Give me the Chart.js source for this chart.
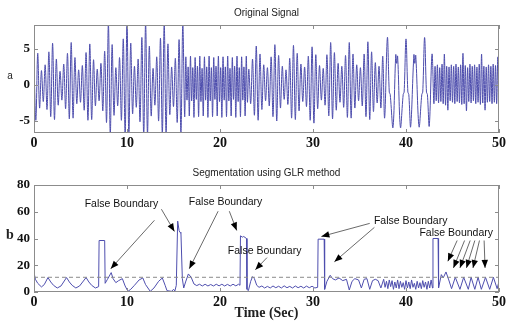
<!DOCTYPE html>
<html>
<head>
<meta charset="utf-8">
<script src="https://cdn.jsdelivr.net/npm/chart.js@4.4.7/dist/chart.umd.min.js"></script>
<style>
  html, body { margin: 0; padding: 0; background: #fff; }
  #wrap { position: relative; width: 508px; height: 322px; }
  canvas { position: absolute; left: 0; }
  #top { top: 0; }
  #bottom { top: 160px; }
</style>
</head>
<body>
<div id="wrap">
  <canvas id="top" width="508" height="160"></canvas>
  <canvas id="bottom" width="508" height="162"></canvas>
</div>
<script>
// ---- data ----
const xTicks = [0, 10, 20, 30, 40, 50];
const aTicks = [-5, 0, 5];
const bTicks = [0, 20, 40, 60, 80];

// original signal, peaks and troughs
// 0-16 s, one extreme every 0.2 s
const sigA = [
  2.5, -4.9, 4.4, -3.2, 2.0, -2.3, 2.8, -3.4, 4.6, -4.4,
  5.8, -4.8, 3.6, -2.8, 1.9, -2.1, 2.9, -3.3, 4.4, -4.7,
  5.9, -4.6, 3.8, -2.6, 2.1, -2.4, 2.7, -3.5, 4.5, -4.9,
  5.7, -4.8, 3.5, -2.9, 2.2, -2.2, 3.0, -3.6, 4.7, -5.2,
  8.6, -6.9, 5.6, -4.2, 2.4, -2.9, 3.8, -4.9, 6.4, -6.9,
  8.8, -7.0, 5.8, -4.0, 2.6, -3.1, 3.6, -5.1, 6.6, -7.0,
  8.7, -6.9, 5.4, -4.3, 2.3, -2.8, 3.9, -5.0, 6.5, -6.9,
  8.6, -6.8, 5.7, -4.1, 2.5, -3.0, 3.7, -5.2, 6.3, -6.8,
  8.6
];
// 16.2-23 s, one extreme every 0.125 s
const sigB = [
  -4.4, 3.9, -2.1, 2.5, -4.3, 4.0, -2.2, 2.4, -4.5, 3.8, -2.0, 2.6,
  -4.4, 4.0, -2.3, 2.3, -4.3, 3.9, -2.1, 2.5, -4.5, 4.0, -2.2, 2.4,
  -4.4, 3.8, -2.0, 2.6, -4.3, 4.0, -2.3, 2.4, -4.5, 3.9, -2.1, 2.5,
  -4.4, 4.0, -2.2, 2.3, -4.3, 3.8, -2.0, 2.6, -4.5, 4.0, -2.3, 2.4,
  -4.4, 3.9, -2.1, 2.5, -4.3, 4.0, -2.4
];
// 23.1-37.7 s, one extreme every 0.2 s
const sigC = [
  2.2, -2.6, 3.6, -4.2, 5.4, -4.9, 4.3, -3.4, 2.8, -2.2,
  2.4, -2.9, 3.9, -4.4, 5.6, -5.0, 4.1, -3.2, 2.6, -2.0,
  2.1, -2.7, 3.7, -4.6, 5.5, -4.8, 4.4, -3.6, 2.9, -2.3,
  2.5, -3.0, 4.0, -4.9, 5.3, -5.3, 4.2, -3.3, 2.7, -2.1,
  2.3, -2.8, 4.2, -4.3, 5.9, -4.7, 4.5, -3.5, 3.0, -2.4,
  2.6, -3.1, 4.1, -4.5, 5.9, -4.6, 4.3, -3.2, 2.8, -2.2,
  2.4, -2.9, 4.3, -4.4, 6.0, -4.8, 4.6, -3.7, 3.1, -2.5,
  2.6, -3.2, 4.0, -4.6
];
// 38-42.8 s, slow part
const sigDTime = [38.0, 38.2, 38.3, 38.6, 38.9, 39.0, 39.1, 39.4, 39.7, 39.8, 40.0, 40.2, 40.3,
  40.5, 40.85, 40.95, 41.05, 41.4, 41.7, 41.8, 42.0, 42.2, 42.3, 42.5, 42.8];
const sigD = [6.6, -1.0, -1.3, -5.9, 4.2, 3.0, 4.0, -5.9, -1.3, -1.0, 6.4, -1.0, -1.3,
  -5.8, 4.2, 3.0, 4.1, -5.8, -1.3, -1.0, 6.6, -1.0, -1.3, -5.7, 4.3];
// 43-50 s, one extreme every 0.125 s
const sigE = [
  -2.6, 2.6, -2.2, 2.8, -2.5, 2.4, -2.3, 2.9, -2.6, 4.3, -2.8, 2.6,
  -3.5, 2.5, -2.2, 2.8, -2.4, 2.6, -2.6, 2.9, -2.3, 2.5, -2.5, 2.8,
  -2.7, 4.4, -2.6, 2.7, -3.6, 2.4, -2.3, 2.9, -2.5, 2.6, -2.2, 2.8,
  -2.6, 2.5, -2.4, 2.9, -2.7, 4.3, -2.5, 2.6, -3.5, 2.5, -2.4, 2.8,
  -2.3, 2.6, -2.6, 2.9, -2.4, 2.7, -2.6, 3.9, -1.5
];

// GLR statistic
const glrT = [
  0, 0.15, 0.4, 0.8, 1.1, 1.5, 1.8, 2.1, 2.5, 2.9, 3.5, 3.8, 4.1, 4.5, 4.9, 5.6, 5.9, 6.2, 6.6, 6.95,
  7.0, 7.6, 7.65, 7.9, 8.3, 8.5, 8.8, 9.1, 9.5, 9.8, 10.1, 10.4, 10.8, 11.3, 11.7, 12.0, 12.5, 12.9,
  13.4, 13.8, 14.1, 14.3, 14.8, 15.0, 15.15, 15.3, 15.45, 15.6, 15.7, 15.8, 15.95, 16.1, 16.3, 16.6,
  16.9, 17.2, 17.5, 17.8, 18.1, 18.4, 18.7, 19.0, 19.3, 19.6, 19.9, 20.2, 20.5, 20.8, 21.1, 21.4,
  21.7, 22.0, 22.15, 22.2, 22.4, 22.55, 22.85, 22.9, 23.05, 23.3, 23.5, 23.7, 23.95, 24.2, 24.5,
  24.8, 25.1, 25.4, 25.7, 26.0, 26.3, 26.6, 26.9, 27.2, 27.5, 27.8, 28.1, 28.4, 28.7, 29.0, 29.3,
  29.6, 29.9, 30.2, 30.5, 30.55, 31.2, 31.25, 31.5, 31.85, 32.1, 32.4, 32.8, 33.2, 33.6, 33.9, 34.2,
  34.5, 34.9, 35.2, 35.5, 35.8, 36.1, 36.4, 36.7, 37.0, 37.3, 37.6, 37.75, 37.9, 38.05, 38.2, 38.35,
  38.5, 38.65, 38.8, 38.95, 39.1, 39.25, 39.4, 39.55, 39.7, 39.85, 40.0, 40.15, 40.3, 40.45, 40.6,
  40.75, 40.9, 41.05, 41.2, 41.35, 41.5, 41.65, 41.8, 41.95, 42.1, 42.25, 42.4, 42.55, 42.7, 42.85,
  42.9, 43.45, 43.5, 43.8, 44.0, 44.3, 44.6, 44.9, 45.3, 45.8, 46.2, 46.7, 47.0, 47.4, 47.75, 48.1,
  48.55, 49.0, 49.4, 49.8, 50.0
];
const glrV = [
  14.5, 9.5, 6.5, 3.8, 5.5, 10.8, 7.5, 5.0, 3.0, 4.5, 10.8, 7.5, 5.0, 3.0, 4.5, 10.8, 7.5, 5.0, 3.0, 4.0,
  38.5, 38.5, 6.5, 9.5, 14.5, 10.0, 7.0, 8.5, 10.0, 4.5, 0.5, 2.0, 5.0, 9.0, 10.5, 5.5, 0.5, 3.0,
  8.0, 10.5, 5.0, 1.0, 0.5, 2.0, 0.8, 5.0, 53.0, 46.0, 44.5, 44.0, 10.0, 3.0, 7.5, 13.5,
  11.0, 6.0, 4.8, 5.8, 4.5, 5.8, 4.5, 5.6, 4.5, 5.8, 4.6, 5.8, 4.5, 5.7, 4.5, 5.8,
  4.6, 5.8, 5.0, 42.0, 41.0, 41.5, 40.0, 2.0, 1.0, 8.0, 11.5, 10.0, 5.0, 3.5, 4.5,
  3.0, 4.2, 3.0, 4.5, 3.2, 4.3, 3.0, 4.6, 3.2, 4.2, 3.0, 4.5, 3.2, 4.3, 3.0, 4.4,
  3.2, 4.3, 3.0, 3.5, 39.5, 39.5, 2.0, 8.0, 12.5, 10.0, 9.0, 10.5, 8.5, 9.5, 1.5, 8.0,
  10.0, 9.0, 3.0, 9.5, 10.0, 2.0, 8.5, 9.5, 8.5, 3.0, 9.5, 3.5, 8.0, 2.5, 9.0, 4.0,
  8.5, 2.0, 7.5, 3.0, 9.0, 2.5, 8.0, 3.5, 7.0, 2.0, 8.5, 3.0, 7.5, 2.5, 9.0,
  3.5, 6.5, 2.0, 8.0, 3.0, 7.0, 2.5, 8.5, 3.5, 7.5, 2.0, 8.0, 3.0, 9.0, 3.0,
  40.0, 40.0, 3.0, 13.0, 10.5, 15.0, 9.0, 2.5, 11.0, 2.0, 11.0, 2.0, 11.0, 2.0, 11.0, 2.0,
  11.0, 2.0, 11.0, 2.5, 8.0
];
const threshold = 11;

// ---- build points ----
function fromSteps(start, step, vals) {
  return vals.map((v, i) => ({ x: start + i * step, y: v }));
}
const signalPts = [
  ...fromSteps(0, 0.2, sigA),
  ...fromSteps(16.2, 0.125, sigB),
  ...fromSteps(23.1, 0.2, sigC),
  ...sigDTime.map((t, i) => ({ x: t, y: sigD[i] })),
  ...fromSteps(43, 0.125, sigE)
];
const glrPts = glrT.map((t, i) => ({ x: t, y: glrV[i] }));

// draws the box, inward ticks, titles and arrows (MATLAB look)
const decor = {
  id: 'decor',
  afterDraw(chart, args, opts) {
    const { ctx, chartArea: a, scales: { x, y } } = chart;
    ctx.save();
    ctx.strokeStyle = '#8c8c8c';
    ctx.lineWidth = 1;
    ctx.strokeRect(a.left + 0.5, a.top + 0.5, a.right - a.left - 1, a.bottom - a.top - 1);
    ctx.beginPath();
    x.ticks.forEach(t => {
      const px = Math.round(x.getPixelForValue(t.value)) + 0.5;
      ctx.moveTo(px, a.bottom); ctx.lineTo(px, a.bottom - 4);
      ctx.moveTo(px, a.top); ctx.lineTo(px, a.top + 4);
    });
    y.ticks.forEach(t => {
      const py = Math.round(y.getPixelForValue(t.value)) + 0.5;
      ctx.moveTo(a.left, py); ctx.lineTo(a.left + 4, py);
      ctx.moveTo(a.right, py); ctx.lineTo(a.right - 4, py);
    });
    ctx.stroke();

    const cx = (a.left + a.right) / 2;
    ctx.fillStyle = '#222';
    ctx.textAlign = 'center';
    ctx.textBaseline = 'middle';
    ctx.font = '10px "Liberation Sans"';
    ctx.fillText(opts.title, cx, a.top - 12);

    ctx.font = opts.yFont;
    ctx.fillText(opts.yLabel, 10, (a.top + a.bottom) / 2 - 3);

    if (opts.xLabel) {
      ctx.font = 'bold 14px "Liberation Serif"';
      ctx.fillText(opts.xLabel, cx, a.bottom + 21);
    }

    (opts.notes || []).forEach(n => {
      ctx.font = '10.5px "Liberation Sans"';
      ctx.fillStyle = '#111';
      ctx.fillText(n.text, x.getPixelForValue(n.t), y.getPixelForValue(n.v));
    });
    (opts.arrows || []).forEach(([t0, v0, t1, v1]) => {
      const x0 = x.getPixelForValue(t0), y0 = y.getPixelForValue(v0);
      const x1 = x.getPixelForValue(t1), y1 = y.getPixelForValue(v1);
      const ang = Math.atan2(y1 - y0, x1 - x0);
      ctx.strokeStyle = '#444';
      ctx.lineWidth = 0.8;
      ctx.beginPath(); ctx.moveTo(x0, y0); ctx.lineTo(x1, y1); ctx.stroke();
      ctx.fillStyle = '#000';
      ctx.beginPath();
      ctx.moveTo(x1, y1);
      ctx.lineTo(x1 - 8 * Math.cos(ang) + 3.2 * Math.sin(ang), y1 - 8 * Math.sin(ang) - 3.2 * Math.cos(ang));
      ctx.lineTo(x1 - 8 * Math.cos(ang) - 3.2 * Math.sin(ang), y1 - 8 * Math.sin(ang) + 3.2 * Math.cos(ang));
      ctx.closePath();
      ctx.fill();
    });
    ctx.restore();
  }
};

function xScale(h) {
  return {
    type: 'linear', min: 0, max: 50,
    afterBuildTicks: s => { s.ticks = xTicks.map(v => ({ value: v })); },
    afterFit: s => { s.height = h; },
    grid: { display: false, drawTicks: false },
    border: { display: false },
    ticks: { padding: 2, maxRotation: 0, color: '#111', font: { family: 'Liberation Serif', size: 14, weight: 'bold' } }
  };
}
function yScale(min, max, ticks) {
  return {
    min, max,
    afterBuildTicks: s => { s.ticks = ticks.map(v => ({ value: v })); },
    afterFit: s => { s.width = 34; },
    grid: { display: false, drawTicks: false },
    border: { display: false },
    ticks: { padding: 4, color: '#111', font: { family: 'Liberation Serif', size: 13, weight: 'bold' } }
  };
}

const common = {
  responsive: false,
  animation: false,
  events: [],
  layout: { padding: { top: 25, right: 7, left: 0, bottom: 0 } },
  elements: { point: { radius: 0 }, line: { tension: 0 } }
};

new Chart(document.getElementById('top'), {
  type: 'line',
  data: { datasets: [{ data: signalPts, borderColor: '#4c4cac', borderWidth: 1, tension: 0.35 }] },
  options: {
    ...common,
    scales: { x: xScale(27), y: yScale(-6.67, 8.33, aTicks) },
    plugins: {
      legend: { display: false }, tooltip: { enabled: false },
      decor: { title: 'Original Signal', yLabel: 'a', yFont: '10px "Liberation Sans"' }
    }
  },
  plugins: [decor]
});

new Chart(document.getElementById('bottom'), {
  type: 'line',
  data: {
    datasets: [
      { data: [{ x: 0, y: threshold }, { x: 50, y: threshold }], borderColor: '#8a8a8a', borderWidth: 1, borderDash: [4, 3] },
      { data: glrPts, borderColor: '#4e4eae', borderWidth: 1 }
    ]
  },
  options: {
    ...common,
    scales: { x: xScale(30), y: yScale(0, 80, bTicks) },
    plugins: {
      legend: { display: false }, tooltip: { enabled: false },
      decor: {
        title: 'Segmentation using GLR method',
        yLabel: 'b', yFont: 'bold 14px "Liberation Serif"',
        xLabel: 'Time (Sec)',
        notes: [
          { t: 9.4, v: 65.7, text: 'False Boundary' },
          { t: 20.6, v: 67.2, text: 'False Boundary' },
          { t: 24.8, v: 30.2, text: 'False Boundary' },
          { t: 40.5, v: 52.8, text: 'False Boundary' },
          { t: 45.4, v: 43.8, text: 'False Boundary' }
        ],
        arrows: [
          [12.95, 53.6, 8.25, 17.4], [13.7, 61.9, 15.1, 45.3],
          [19.8, 60.4, 16.7, 17.4], [21.0, 60.4, 21.8, 46],
          [25.05, 25.7, 23.8, 16.6],
          [36.1, 51.3, 30.9, 41.5], [36.6, 48.3, 32.3, 22.6],
          [45.5, 38.5, 44.5, 23.0], [46.3, 38.5, 45.1, 18.0], [46.9, 38.5, 45.8, 18.0],
          [47.4, 38.5, 46.5, 18.0], [47.9, 38.5, 47.2, 18.0], [48.4, 38.5, 48.5, 18.0]
        ]
      }
    }
  },
  plugins: [decor]
});
</script>
</body>
</html>
